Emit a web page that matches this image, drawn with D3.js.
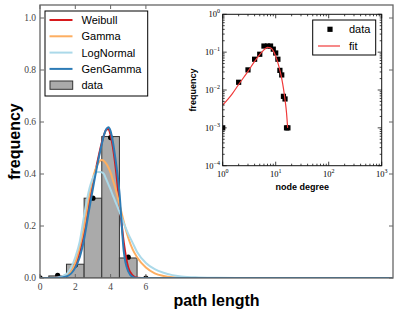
<!DOCTYPE html>
<html><head><meta charset="utf-8">
<script src="https://cdn.jsdelivr.net/npm/d3@7"></script>
<style>body{margin:0;background:#fff}</style>
</head><body><svg id="c" width="399" height="316"></svg>
<script>
// ---- main histogram data ----
const binCenters = [0, 1, 2, 3, 4, 5, 6];
const binValues  = [0.0005, 0.008, 0.053, 0.307, 0.544, 0.077, 0.001];
const dotValues  = [0.001, 0.01, 0.05, 0.307, 0.54, 0.08, 0.0];
// ---- fitted curves ----
const curveX    = [0, 0.5, 1, 1.5, 2, 2.25, 2.5, 2.75, 3, 3.25, 3.5, 3.625, 3.75, 3.875, 4, 4.125, 4.25, 4.5, 4.75, 5, 5.25, 5.5, 6, 6.5, 7, 7.5, 8, 9, 10, 12, 20];
const weibull   = [0, 0, 0.002, 0.012, 0.05, 0.1, 0.18, 0.28, 0.365, 0.445, 0.52, 0.55, 0.57, 0.573, 0.55, 0.505, 0.445, 0.29, 0.135, 0.04, 0.01, 0.001, 0, 0, 0, 0, 0, 0, 0, 0, 0];
const gamma     = [0, 0, 0.0005, 0.008, 0.06, 0.12, 0.2, 0.305, 0.385, 0.435, 0.454, 0.45, 0.44, 0.425, 0.405, 0.377, 0.35, 0.285, 0.215, 0.155, 0.11, 0.08, 0.04, 0.018, 0.008, 0.003, 0.001, 0, 0, 0, 0];
const lognormal = [0, 0, 0.002, 0.015, 0.08, 0.14, 0.24, 0.33, 0.385, 0.408, 0.407, 0.4, 0.38, 0.36, 0.34, 0.318, 0.297, 0.255, 0.21, 0.17, 0.135, 0.1, 0.058, 0.034, 0.02, 0.011, 0.006, 0.002, 0.0005, 0, 0];
const gengamma  = [0, 0, 0.0005, 0.006, 0.04, 0.08, 0.15, 0.25, 0.345, 0.435, 0.515, 0.55, 0.572, 0.58, 0.565, 0.525, 0.47, 0.33, 0.1, 0.025, 0.004, 0, 0, 0, 0, 0, 0, 0, 0, 0, 0];
const seriesNames  = ["Weibull", "Gamma", "LogNormal", "GenGamma"];
const seriesColors = ["#d7191c", "#fdae61", "#abd9e9", "#2c7bb6"];
const xTicks = [0, 2, 4, 6];
const yTicks = [0, 0.2, 0.4, 0.6, 0.8, 1.0];
// ---- inset data ----
const degree     = [1, 2, 3, 4, 5, 6, 7, 8, 9, 10, 11, 12, 13, 14, 15, 16, 17];
const degreeFreq = [0.001, 0.016, 0.034, 0.065, 0.088, 0.145, 0.145, 0.145, 0.12, 0.095, 0.065, 0.033, 0.025, 0.0068, 0.0058, 0.001, 0.001];
const fitDegree  = [1, 1.5, 2, 3, 4, 5, 6, 7, 8, 9, 10, 11, 12, 13, 14, 15, 16, 16.8];
const fitFreq    = [0.004, 0.0078, 0.014, 0.031, 0.057, 0.086, 0.115, 0.133, 0.13, 0.108, 0.078, 0.052, 0.033, 0.02, 0.011, 0.0055, 0.0025, 0.001];
const insetXTicks = [1, 10, 100, 1000];
const insetXExp   = ["0", "1", "2", "3"];
const insetYTicks = [1, 0.1, 0.01, 0.001, 0.0001];
const insetYExp   = ["0", "\u22121", "\u22122", "\u22123", "\u22124"];

const svg = d3.select("#c");
const serif = "'Liberation Serif','DejaVu Serif',serif";
const sans = "'Liberation Sans',Arial,sans-serif";

// ===== main axes =====
const L = 40, R = 393, T = 5, B = 278;
const x = d3.scaleLinear().domain([0, 20]).range([L, R]);
const y = d3.scaleLinear().domain([0, 1.05]).range([B, T]);

const main = svg.append("g");
main.append("defs").append("clipPath").attr("id", "mclip")
  .append("rect").attr("x", L).attr("y", T).attr("width", R - L).attr("height", B - T);
const plot = main.append("g").attr("clip-path", "url(#mclip)");

// bars
plot.selectAll("rect.bar").data(binCenters).join("rect")
  .attr("x", d => x(d - 0.5)).attr("width", d => x(d + 0.5) - x(d - 0.5))
  .attr("y", (d, i) => y(binValues[i])).attr("height", (d, i) => y(0) - y(binValues[i]))
  .attr("fill", "#aaaaaa").attr("stroke", "#333").attr("stroke-width", 1);

// dots
plot.selectAll("circle.dot").data(binCenters).join("circle")
  .attr("cx", d => x(d)).attr("cy", (d, i) => y(dotValues[i])).attr("r", 2.6).attr("fill", "#000");

// curves
const line = d3.line().x(d => x(d[0])).y(d => y(d[1])).curve(d3.curveMonotoneX);
[weibull, gamma, lognormal, gengamma].forEach((s, k) => {
  plot.append("path").attr("d", line(curveX.map((v, i) => [v, s[i]])))
    .attr("fill", "none").attr("stroke", seriesColors[k]).attr("stroke-width", 2);
});

// frame
main.append("rect").attr("x", L).attr("y", T).attr("width", R - L).attr("height", B - T)
  .attr("fill", "none").attr("stroke", "#666").attr("stroke-width", 1.3);

// ticks (inward, all sides)
xTicks.forEach(t => {
  main.append("line").attr("x1", x(t)).attr("x2", x(t)).attr("y1", B).attr("y2", B - 4).attr("stroke", "#666");
  main.append("line").attr("x1", x(t)).attr("x2", x(t)).attr("y1", T).attr("y2", T + 4).attr("stroke", "#666");
  main.append("text").attr("x", x(t)).attr("y", 290).attr("text-anchor", "middle")
    .attr("font-family", serif).attr("font-size", 9.5).attr("fill", "#444").text(t);
});
yTicks.forEach(t => {
  main.append("line").attr("x1", L).attr("x2", L + 4).attr("y1", y(t)).attr("y2", y(t)).attr("stroke", "#666");
  main.append("line").attr("x1", R).attr("x2", R - 4).attr("y1", y(t)).attr("y2", y(t)).attr("stroke", "#666");
  main.append("text").attr("x", 36).attr("y", y(t) + 3.2).attr("text-anchor", "end")
    .attr("font-family", serif).attr("font-size", 9.5).attr("fill", "#444").text(t.toFixed(1));
});

// axis labels
main.append("text").attr("x", (L + R) / 2).attr("y", 306).attr("text-anchor", "middle")
  .attr("font-family", sans).attr("font-weight", "bold").attr("font-size", 16).text("path length");
main.append("text").attr("transform", `translate(20,${(T + B) / 2}) rotate(-90)`).attr("text-anchor", "middle")
  .attr("font-family", sans).attr("font-weight", "bold").attr("font-size", 16).text("frequency");

// legend
const lg = main.append("g");
lg.append("rect").attr("x", 45).attr("y", 11).attr("width", 102.7).attr("height", 85)
  .attr("fill", "#fff").attr("stroke", "#000").attr("stroke-width", 1);
seriesNames.forEach((n, k) => {
  const yy = 20 + k * 16.3;
  lg.append("line").attr("x1", 49.5).attr("x2", 72.5).attr("y1", yy).attr("y2", yy)
    .attr("stroke", seriesColors[k]).attr("stroke-width", 2);
  lg.append("text").attr("x", 81.5).attr("y", yy + 4).attr("font-family", sans).attr("font-size", 11).text(n);
});
lg.append("rect").attr("x", 50).attr("y", 81).attr("width", 22.7).attr("height", 8.3)
  .attr("fill", "#aaaaaa").attr("stroke", "#333").attr("stroke-width", 1);
lg.append("text").attr("x", 81.5).attr("y", 20 + 4 * 16.3 + 4).attr("font-family", sans).attr("font-size", 11).text("data");

// ===== inset =====
const iL = 222.7, iR = 381.7, iT = 14.3, iB = 165.7;
const ix = d3.scaleLog().domain([1, 1000]).range([iL, iR]);
const iy = d3.scaleLog().domain([1e-4, 1]).range([iB, iT]);
const ins = svg.append("g");
ins.append("rect").attr("x", iL).attr("y", iT).attr("width", iR - iL).attr("height", iB - iT).attr("fill", "#fff");
ins.append("defs").append("clipPath").attr("id", "iclip")
  .append("rect").attr("x", iL).attr("y", iT).attr("width", iR - iL).attr("height", iB - iT);
const ip = ins.append("g").attr("clip-path", "url(#iclip)");
ip.selectAll("rect.sq").data(degree).join("rect")
  .attr("x", d => ix(d) - 2.6).attr("y", (d, i) => iy(degreeFreq[i]) - 2.6)
  .attr("width", 5.2).attr("height", 5.2).attr("fill", "#000");
const fline = d3.line().x(d => ix(d[0])).y(d => iy(d[1])).curve(d3.curveMonotoneX);
ip.append("path").attr("d", fline(fitDegree.map((v, i) => [v, fitFreq[i]])))
  .attr("fill", "none").attr("stroke", "#f03a3a").attr("stroke-width", 1.2);

ins.append("rect").attr("x", iL).attr("y", iT).attr("width", iR - iL).attr("height", iB - iT)
  .attr("fill", "none").attr("stroke", "#111").attr("stroke-width", 1);

// inset ticks: major + minor
const tk = (x1, y1, x2, y2) => ins.append("line").attr("x1", x1).attr("y1", y1).attr("x2", x2).attr("y2", y2)
  .attr("stroke", "#111").attr("stroke-width", 0.8);
insetXTicks.forEach((t, i) => {
  tk(ix(t), iB, ix(t), iB - 4); tk(ix(t), iT, ix(t), iT + 4);
  if (i < insetXTicks.length - 1) for (let m = 2; m <= 9; m++) {
    const v = t * m; tk(ix(v), iB, ix(v), iB - 2); tk(ix(v), iT, ix(v), iT + 2);
  }
  const tx = ins.append("text").attr("x", ix(t)).attr("y", 176.5).attr("text-anchor", "middle")
    .attr("font-family", serif).attr("font-size", 8.5);
  tx.append("tspan").text("10");
  tx.append("tspan").attr("dy", -4).attr("font-size", 6).text(insetXExp[i]);
});
insetYTicks.forEach((t, i) => {
  tk(iL, iy(t), iL + 4, iy(t)); tk(iR, iy(t), iR - 4, iy(t));
  if (t < 1) for (let m = 2; m <= 9; m++) {
    const v = t * m; tk(iL, iy(v), iL + 2, iy(v)); tk(iR, iy(v), iR - 2, iy(v));
  }
  const tx = ins.append("text").attr("x", 220).attr("y", iy(t) + 3).attr("text-anchor", "end")
    .attr("font-family", serif).attr("font-size", 8.5);
  tx.append("tspan").text("10");
  tx.append("tspan").attr("dy", -4).attr("font-size", 6).text(insetYExp[i]);
});
ins.append("text").attr("x", (iL + iR) / 2).attr("y", 190).attr("text-anchor", "middle")
  .attr("font-family", sans).attr("font-weight", "bold").attr("font-size", 9).text("node degree");
ins.append("text").attr("transform", `translate(195.5,${(iT + iB) / 2}) rotate(-90)`).attr("text-anchor", "middle")
  .attr("font-family", sans).attr("font-weight", "bold").attr("font-size", 9).text("frequency");

// inset legend
ins.append("rect").attr("x", 312.7).attr("y", 20).attr("width", 63).attr("height", 35)
  .attr("fill", "#fff").attr("stroke", "#000").attr("stroke-width", 1);
ins.append("rect").attr("x", 327.4).attr("y", 26.7).attr("width", 5.2).attr("height", 5.2).attr("fill", "#000");
ins.append("text").attr("x", 349).attr("y", 33.3).attr("font-family", sans).attr("font-size", 11).text("data");
ins.append("line").attr("x1", 318).attr("x2", 340).attr("y1", 46).attr("y2", 46).attr("stroke", "#f03a3a").attr("stroke-width", 1.2);
ins.append("text").attr("x", 349).attr("y", 50).attr("font-family", sans).attr("font-size", 11).text("fit");
</script></body></html>
